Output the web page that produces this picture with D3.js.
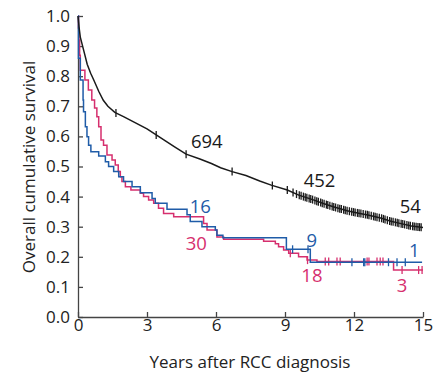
<!DOCTYPE html>
<html>
<head>
<meta charset="utf-8">
<script src="https://cdn.jsdelivr.net/npm/d3@7"></script>
<style>
  body { margin: 0; background: #fff; }
  svg text { font-family: "Open Sans", "Noto Sans", sans-serif; }
</style>
</head>
<body>
<svg id="chart" width="438" height="375"></svg>
<script>
// survival curves, [years, cumulative survival]
const blackCurve = [[0,1.0],[0.05,0.96],[0.1,0.93],[0.2,0.90],[0.3,0.87],[0.4,0.84],[0.55,0.81],[0.7,0.785],[0.9,0.75],
  [1.1,0.72],[1.3,0.70],[1.6,0.68],[2.0,0.665],[2.5,0.645],[3.0,0.625],[3.4,0.605],[3.8,0.585],[4.2,0.565],[4.7,0.541],
  [5.3,0.525],[5.8,0.51],[6.2,0.496],[6.7,0.483],[7.3,0.47],[7.9,0.452],[8.4,0.438],[9.1,0.422],[9.6,0.405],[10.2,0.39],
  [10.7,0.376],[11.1,0.366],[11.7,0.353],[12.2,0.345],[12.6,0.339],[13.2,0.328],[13.6,0.318],[14.0,0.311],[14.5,0.302],[15.0,0.297]];

const blueCurve = [[0,1.0],[0.02,0.86],[0.1,0.787],[0.22,0.721],[0.24,0.682],[0.32,0.632],[0.39,0.599],[0.46,0.571],
  [0.56,0.549],[0.9,0.535],[1.19,0.516],[1.33,0.5],[1.55,0.483],[1.77,0.466],[1.98,0.45],[2.35,0.433],[2.71,0.413],
  [3.22,0.394],[3.36,0.378],[3.87,0.358],[4.74,0.34],[4.88,0.317],[5.39,0.30],[5.97,0.289],[6.04,0.272],[6.3,0.263],
  [9.06,0.225],[10.1,0.182],[14.96,0.182]];

const pinkCurve = [[0,1.0],[0.02,0.96],[0.04,0.92],[0.07,0.87],[0.1,0.82],[0.3,0.787],[0.45,0.754],[0.6,0.721],[0.72,0.694],
  [0.82,0.665],[0.9,0.632],[1.0,0.588],[1.11,0.571],[1.26,0.538],[1.48,0.522],[1.62,0.505],[1.75,0.483],[1.84,0.466],
  [1.91,0.45],[2.06,0.433],[2.3,0.422],[2.71,0.411],[2.85,0.40],[3.07,0.389],[3.29,0.378],[3.5,0.361],[3.72,0.344],
  [4.16,0.333],[5.46,0.311],[5.61,0.289],[6.04,0.266],[6.33,0.258],[8.07,0.252],[8.58,0.243],[8.72,0.233],[8.94,0.223],
  [9.16,0.212],[9.59,0.20],[9.96,0.189],[10.39,0.184],[13.72,0.156],[15.0,0.156]];

// censoring marks, years
const blackCensor = [1.65,3.4,4.7,6.7,8.45,9.1,9.35,9.5,9.62,9.7,9.8,9.88,9.95,10.05,10.12,10.2,10.3,10.38,10.45,10.55,
  10.62,10.7,10.8,10.86,10.95,11.05,11.12,11.2,11.3,11.38,11.45,11.55,11.62,11.7,11.8,11.9,11.98,12.05,12.15,12.22,
  12.3,12.4,12.5,12.58,12.65,12.75,12.85,12.92,13.0,13.1,13.2,13.28,13.35,13.45,13.55,13.62,13.7,13.8,13.88,13.95,
  14.05,14.12,14.2,14.3,14.38,14.45,14.55,14.62,14.7,14.78,14.85,14.92];
const blueCensor = [9.33,10.0,11.91,12.42,12.47,13.5,13.87,14.23];
const pinkCensor = [9.23,9.98,10.75,10.9,11.26,11.4,12.57,12.65,13.0,13.14,13.26,14.09,14.81,14.96];

// numbers at risk
const blackAtRisk = [["694",5.6,0.562],["452",10.5,0.432],["54",14.45,0.346]];
const blueAtRisk = [["16",5.32,0.345],["9",10.17,0.234],["1",14.62,0.2]];
const pinkAtRisk = [["30",5.14,0.223],["18",10.17,0.117],["3",14.09,0.084]];

const xTicks = [0,3,6,9,12,15];
const yTicks = [0,0.1,0.2,0.3,0.4,0.5,0.6,0.7,0.8,0.9,1.0];

const colors = { black: "#1a1a1a", blue: "#1f5ca8", pink: "#d62f6e" };

const svg = d3.select("#chart");
const x = d3.scaleLinear().domain([0, 15]).range([78, 423]);
const y = d3.scaleLinear().domain([0, 1]).range([317, 16]);

// axes, ticks point inward
const xAxis = svg.append("g")
  .attr("transform", "translate(0," + y(0) + ")")
  .call(d3.axisBottom(x).tickValues(xTicks).tickSizeInner(-5).tickSizeOuter(0).tickPadding(2));
const yAxis = svg.append("g")
  .attr("transform", "translate(" + x(0) + ",0)")
  .call(d3.axisLeft(y).tickValues(yTicks).tickFormat(d3.format(".1f")).tickSizeInner(-5).tickSizeOuter(0).tickPadding(8));
[xAxis, yAxis].forEach(g => {
  g.select(".domain").attr("stroke", "#444").attr("stroke-width", 1.3);
  g.selectAll(".tick line").attr("stroke", "#444").attr("stroke-width", 1.3);
  g.selectAll(".tick text").attr("fill", "#222").style("font-size", "17px");
});

// titles
svg.append("text")
  .attr("x", 250).attr("y", 368)
  .attr("text-anchor", "middle")
  .attr("fill", "#222").style("font-size", "17px")
  .text("Years after RCC diagnosis");
svg.append("text")
  .attr("transform", "translate(35,167) rotate(-90)")
  .attr("text-anchor", "middle")
  .attr("fill", "#222").style("font-size", "17px")
  .text("Overall cumulative survival");

const step = d3.line().x(d => x(d[0])).y(d => y(d[1])).curve(d3.curveStepAfter);
const smooth = d3.line().x(d => x(d[0])).y(d => y(d[1]));

// value of a step curve at time t
function stepAt(curve, t) {
  let v = curve[0][1];
  for (const p of curve) { if (p[0] <= t) v = p[1]; }
  return v;
}
function linAt(curve, t) {
  for (let i = 1; i < curve.length; i++) {
    if (curve[i][0] >= t) {
      const a = curve[i - 1], b = curve[i];
      return a[1] + (b[1] - a[1]) * (t - a[0]) / (b[0] - a[0]);
    }
  }
  return curve[curve.length - 1][1];
}

function drawGroup(curve, gen, valueAt, censor, atRisk, color) {
  const g = svg.append("g");
  g.append("path").datum(curve)
    .attr("fill", "none").attr("stroke", color).attr("stroke-width", 1.5)
    .attr("d", gen);
  g.selectAll("line.censor").data(censor).join("line")
    .attr("class", "censor")
    .attr("x1", d => x(d)).attr("x2", d => x(d))
    .attr("y1", d => y(valueAt(curve, d)) - 4).attr("y2", d => y(valueAt(curve, d)) + 4)
    .attr("stroke", color).attr("stroke-width", 1.3);
  g.selectAll("text").data(atRisk).join("text")
    .attr("x", d => x(d[1])).attr("y", d => y(d[2]))
    .attr("text-anchor", "middle")
    .attr("fill", color).style("font-size", "18.5px")
    .text(d => d[0]);
}

drawGroup(pinkCurve, step, stepAt, pinkCensor, pinkAtRisk, colors.pink);
drawGroup(blueCurve, step, stepAt, blueCensor, blueAtRisk, colors.blue);
drawGroup(blackCurve, smooth, linAt, blackCensor, blackAtRisk, colors.black);
</script>
</body>
</html>
